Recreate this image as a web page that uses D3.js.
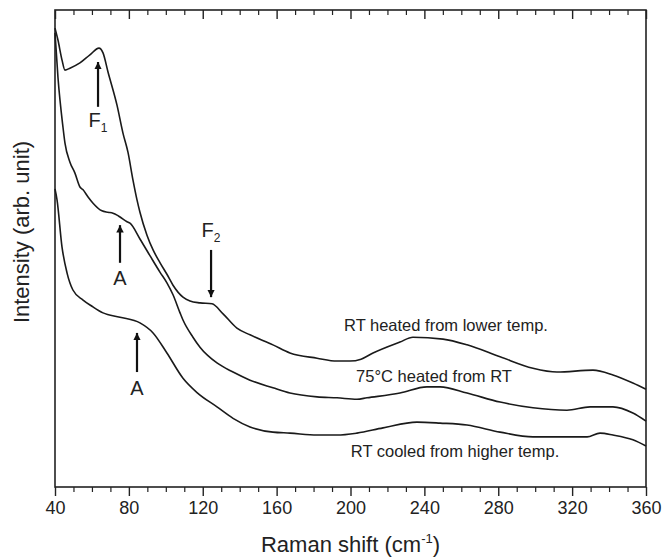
<!DOCTYPE html>
<html><head><meta charset="utf-8">
<script src="https://cdn.jsdelivr.net/npm/d3@7"></script>
<style>
body{margin:0;background:#fff;}
text{font-family:Arial,"Liberation Sans",sans-serif;fill:#222;}
</style></head>
<body><svg id="c" width="662" height="558"></svg>
<script>
// Series: RT heated from lower temp.
const heatedX = [40,41.6,43.8,45.4,48.1,53.5,58.9,63.8,66.0,68.7,73.6,76.8,79.5,82.2,84.4,86.0,89.8,93.1,96.9,100.6,103.9,109.3,113.1,118.5,125.0,131.0,138.5,145.6,158.0,167.2,181.9,192.7,199.7,205.7,212.2,226.8,233.8,250.1,263.1,281.0,298.8,311.8,331.3,342.1,352.9,360];
const heatedY = [96.2,93.7,89.5,87.4,87.8,88.9,90.6,92.0,91.0,87.0,80.0,74.2,70.2,64.4,60.2,57.6,52.8,49.7,47.0,44.6,42.3,39.8,39.0,38.6,38.4,36.3,33.3,31.9,29.8,28.1,27.0,26.4,26.4,26.8,28.1,30.4,31.4,31.0,29.8,27.3,24.9,24.1,24.5,23.5,21.8,20.5];
// Series: 75°C heated from RT
const warmX = [40,41.6,44.3,45.4,48.1,50.8,53.5,55.2,57.9,60.6,65.4,68.7,71.4,73.6,75.2,79.0,80.6,86.0,91.4,96.9,100.6,103.9,107.7,109.3,114.7,118.5,127.7,136.4,145.6,158.0,167.2,181.9,192.7,203.5,208.9,226.8,241.4,248.5,263.1,281.0,298.8,317.2,329.7,342.1,352.9,360];
const warmY = [95.2,85.9,75.5,72.1,68.1,65.8,62.9,62.3,60.8,59.5,57.9,57.6,57.4,57.0,56.6,55.6,55.3,52.0,48.5,45.0,42.8,40.3,36.5,35.0,31.4,29.3,26.0,24.1,22.4,20.8,19.7,18.9,18.7,18.4,18.7,19.7,21.0,21.0,19.7,17.8,16.6,16.1,16.8,16.8,15.5,13.8];
// Series: RT cooled from higher temp.
const cooledX = [40,41.1,43.8,46.5,49.7,55.2,60.0,66.0,75.2,86.0,93.1,100.6,109.3,116.9,127.7,136.4,145.6,158.0,167.2,181.9,192.7,203.5,217.6,236.0,248.5,263.1,281.0,298.8,317.2,328.1,335.1,342.1,352.9,360];
const cooledY = [62.5,60.2,50.3,44.9,41.3,39.2,37.9,36.5,35.6,34.4,32.3,28.1,22.8,19.8,16.8,14.4,12.6,11.5,11.3,10.9,10.9,11.3,12.4,13.6,13.4,13.0,11.5,10.5,10.5,10.5,11.3,10.9,9.9,8.6];

const seriesNames = ["RT heated from lower temp.","75°C heated from RT","RT cooled from higher temp."];
const labelX = [251.7,245.2,256.6];
const labelY = [32.7,22.0,6.3];

const xTicks = [40,80,120,160,200,240,280,320,360];
const xMinorTicks = [50,60,70,90,100,110,130,140,150,170,180,190,210,220,230,250,260,270,290,300,310,330,340,350];

// annotations: arrows [x, tailY, tipY], labels
const arrowX = [63.3,75.2,124.5,84.4];
const arrowTail = [79.7,47.0,49.7,24.1];
const arrowTip = [89.1,54.9,39.8,32.3];
const annText = ["F","A","F","A"];
const annSub = ["1","","2",""];
const annTextY = [75.5,42.3,52.4,19.3];

const svg = d3.select("#c");
const L=55,R=646,T=10,B=487;
const x = d3.scaleLinear().domain([40,360]).range([L,R]);
const y = d3.scaleLinear().domain([0,100]).range([B,T]);

svg.append("defs").append("marker").attr("id","ah").attr("viewBox","0 0 10 10")
  .attr("refX",10).attr("refY",5).attr("markerWidth",3.4).attr("markerHeight",3.6)
  .attr("markerUnits","strokeWidth").attr("orient","auto")
  .append("path").attr("d","M0,0L10,5L0,10Z").attr("fill","#111");

// frame
svg.append("rect").attr("x",L).attr("y",T).attr("width",R-L).attr("height",B-T)
  .attr("fill","none").attr("stroke","#222").attr("stroke-width",1.6);

// bottom axis
const gBottom = svg.append("g").attr("transform",`translate(0,${B})`)
  .call(d3.axisBottom(x).tickValues(xTicks).tickSize(9).tickPadding(5).tickFormat(d3.format("d")));
gBottom.select(".domain").remove();
gBottom.selectAll("line").attr("stroke","#222").attr("stroke-width",1.4);
gBottom.selectAll("text").style("font-size","18px").attr("fill","#222").style("font-family","Arial, 'Liberation Sans', sans-serif");
const gBottomMinor = svg.append("g").attr("transform",`translate(0,${B})`)
  .call(d3.axisBottom(x).tickValues(xMinorTicks).tickSize(5).tickFormat(""));
gBottomMinor.select(".domain").remove();
gBottomMinor.selectAll("line").attr("stroke","#222").attr("stroke-width",1.2);

// top axis (ticks inward)
const gTop = svg.append("g").attr("transform",`translate(0,${T})`)
  .call(d3.axisBottom(x).tickValues(xTicks).tickSize(9).tickFormat(""));
gTop.select(".domain").remove();
gTop.selectAll("line").attr("stroke","#222").attr("stroke-width",1.4);
const gTopMinor = svg.append("g").attr("transform",`translate(0,${T})`)
  .call(d3.axisBottom(x).tickValues(xMinorTicks).tickSize(5).tickFormat(""));
gTopMinor.select(".domain").remove();
gTopMinor.selectAll("line").attr("stroke","#222").attr("stroke-width",1.2);

// titles
const xt = svg.append("text").attr("x",(L+R)/2).attr("y",552).attr("text-anchor","middle").style("font-size","22px");
xt.append("tspan").text("Raman shift (cm");
xt.append("tspan").attr("dy",-9).style("font-size","13px").text("-1");
xt.append("tspan").attr("dy",9).text(")");
svg.append("text").attr("transform",`translate(29,232) rotate(-90)`).attr("text-anchor","middle")
  .style("font-size","22px").text("Intensity (arb. unit)");

// curves
const line = d3.line().x(d=>x(d[0])).y(d=>y(d[1])).curve(d3.curveMonotoneX);
const series = [[heatedX,heatedY],[warmX,warmY],[cooledX,cooledY]];
series.forEach(([xs,ys])=>{
  svg.append("path").datum(xs.map((v,i)=>[v,ys[i]])).attr("d",line)
    .attr("fill","none").attr("stroke","#1a1a1a").attr("stroke-width",1.6);
});

// series labels
seriesNames.forEach((n,i)=>{
  svg.append("text").attr("x",x(labelX[i])).attr("y",y(labelY[i])).attr("text-anchor","middle")
    .style("font-size","16.5px").text(n);
});

// annotations
arrowX.forEach((ax,i)=>{
  svg.append("line").attr("x1",x(ax)).attr("x2",x(ax)).attr("y1",y(arrowTail[i])).attr("y2",y(arrowTip[i]))
    .attr("stroke","#111").attr("stroke-width",2.2).attr("marker-end","url(#ah)");
  const t = svg.append("text").attr("x",x(ax)).attr("y",y(annTextY[i])).attr("text-anchor","middle").style("font-size","20px");
  t.append("tspan").text(annText[i]);
  if(annSub[i]) t.append("tspan").attr("dy",5).style("font-size","12px").text(annSub[i]);
});
</script></body></html>
